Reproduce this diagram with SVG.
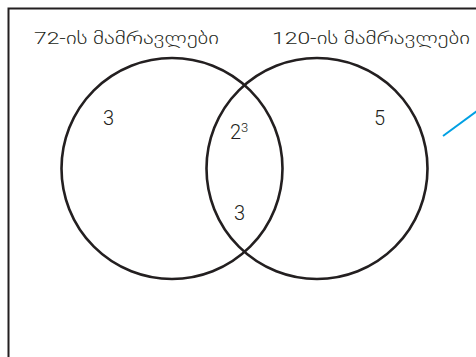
<svg xmlns="http://www.w3.org/2000/svg" width="476" height="357" viewBox="0 0 476 357">
<style>
.frame{fill:none;stroke:#231f20;stroke-width:2}
.set{fill:none;stroke:#231f20;stroke-width:2.6}
.lbl{font-family:Roboto,"DejaVu Sans",sans-serif;font-weight:300;font-size:17px;fill:#231f20}
.num{font-family:Roboto,"Liberation Sans",sans-serif;font-weight:300;font-size:20px;fill:#231f20}
.ptr{stroke:#00a0e3;stroke-width:2;fill:none}
</style>
<rect width="476" height="357" fill="#fff"/>
<path class="frame" d="M8.5,357 V8.5 H476"/>
<g id="set72">
<circle class="set" cx="172" cy="168.5" r="110.5"/>
<text class="lbl" x="34" y="44" textLength="185" lengthAdjust="spacingAndGlyphs">72-ის მამრავლები</text>
<text class="num" x="103" y="125">3</text>
</g>
<g id="set120">
<circle class="set" cx="317" cy="168.5" r="110.5"/>
<text class="lbl" x="272" y="44" textLength="198" lengthAdjust="spacingAndGlyphs">120-ის მამრავლები</text>
<text class="num" x="374" y="125">5</text>
</g>
<g id="common">
<text class="num" x="230" y="139">2<tspan font-size="13" dy="-7">3</tspan></text>
<text class="num" x="234" y="220">3</text>
</g>
<g id="connectors">
<line class="ptr" x1="443" y1="136" x2="477" y2="111"/>
</g>
</svg>
